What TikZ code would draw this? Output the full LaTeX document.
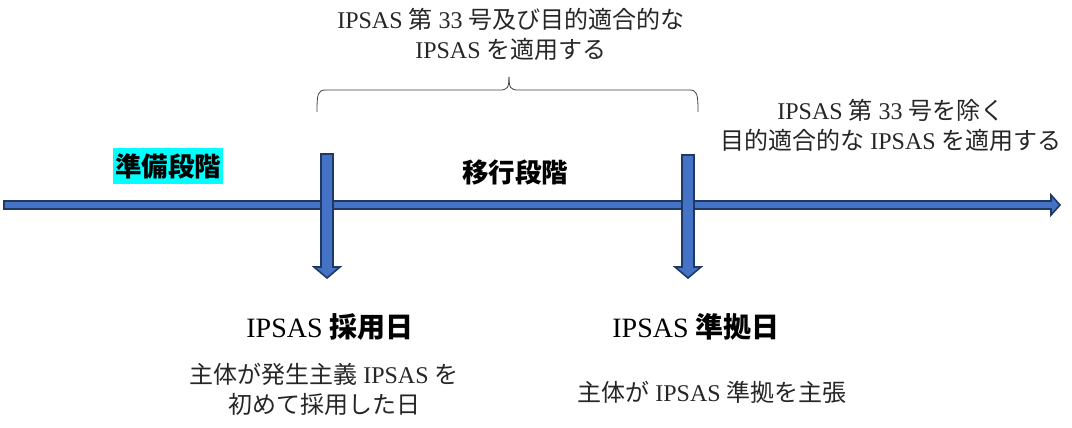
\documentclass[tikz,border=0pt]{standalone}
\usepackage{fontspec}
\setmainfont{Liberation Serif}
\newfontfamily\jp{Noto Sans CJK JP}
\newcommand{\J}[1]{{\jp #1}}
\definecolor{arrowfill}{RGB}{68,114,196}
\definecolor{arrowline}{RGB}{31,56,100}
\definecolor{hl}{RGB}{0,255,255}
\begin{document}
\begin{tikzpicture}[x=1pt,y=-1pt,
  blockarrow/.style={fill=arrowfill,draw=arrowline,line width=1.6pt,line join=miter},
  brace/.style={draw=black!75,line width=0.8pt},
  note/.style={font=\fontsize{24}{30}\selectfont,align=center,inner sep=0pt,text=black!85},
  title/.style={font=\fontsize{28}{30}\selectfont,inner sep=0pt},
  stage/.style={font=\fontsize{26.5}{30}\selectfont\bfseries,inner sep=0pt}]
\useasboundingbox (0,0) rectangle (1072,428);
% timeline
\draw[blockarrow] (4,201) -- (1051,201) -- (1051,195) -- (1060,205) -- (1051,215) -- (1051,209) -- (4,209) -- cycle;
% vertical arrows
\draw[blockarrow] (321,154) -- (333,154) -- (333,267) -- (340,267) -- (327,278) -- (314,267) -- (321,267) -- cycle;
\draw[blockarrow] (682,155) -- (694,155) -- (694,267) -- (701,267) -- (688,278) -- (675,267) -- (682,267) -- cycle;
% brace
\draw[brace] (317,112) .. controls (317,93) and (318,90) .. (326,90) -- (500,90) .. controls (507,90) and (509,88) .. (509,77);
\draw[brace] (698,112) .. controls (698,93) and (697,90) .. (689,90) -- (518,90) .. controls (511,90) and (509,88) .. (509,77);
% texts
\node[note] (top) at (511,34) {IPSAS \J{第} 33 \J{号及び目的適合的な}\\IPSAS \J{を適用する}};
\node[note] (right) at (891,125) {IPSAS \J{第} 33 \J{号を除く}\\\J{目的適合的な} IPSAS \J{を適用する}};
\node[stage,fill=hl,inner xsep=2pt,inner ysep=5pt] (prep) at (168,166) {\J{\bfseries 準備段階}};
\node[stage] (trans) at (515,172) {\J{\bfseries 移行段階}};
\node[title] (adopt) at (330,327) {IPSAS \J{\bfseries 採用日}};
\node[note] (adoptd) at (324,389) {\J{主体が発生主義} IPSAS \J{を}\\\J{初めて採用した日}};
\node[title] (comply) at (696,327) {IPSAS \J{\bfseries 準拠日}};
\node[note] (complyd) at (712,392) {\J{主体が} IPSAS \J{準拠を主張}};
\end{tikzpicture}
\end{document}
